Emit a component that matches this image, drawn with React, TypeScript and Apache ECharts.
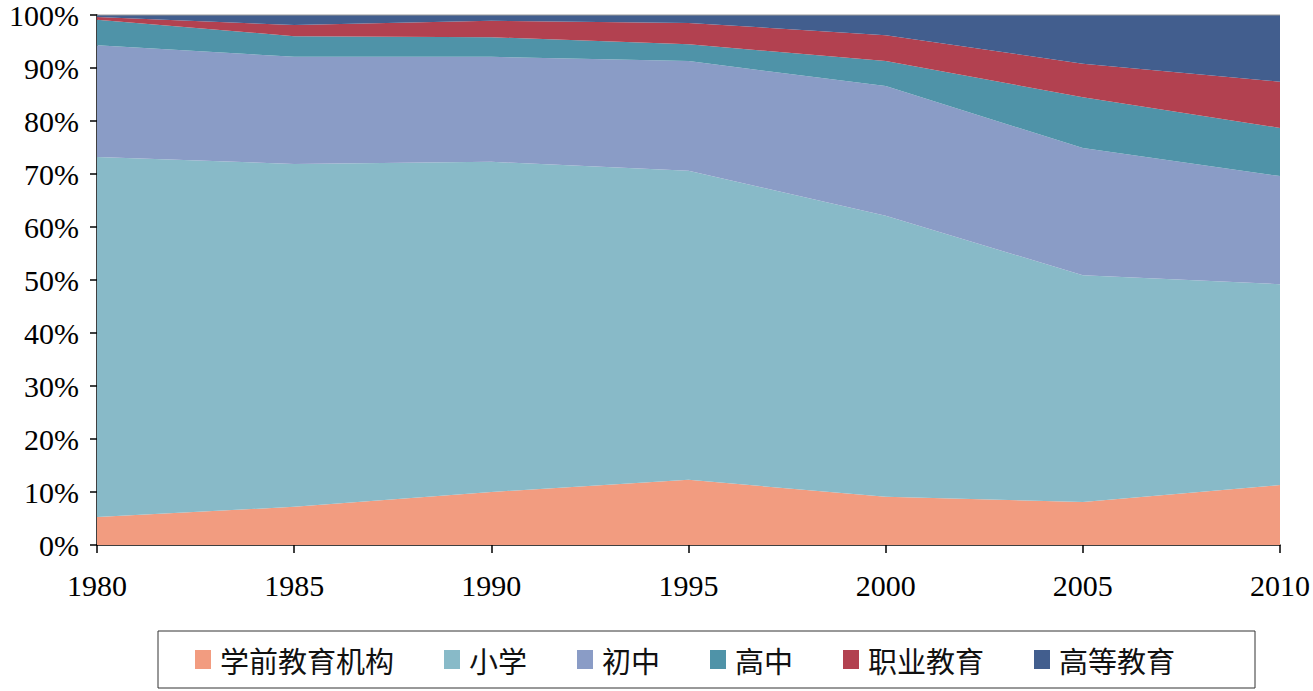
import React, { useEffect, useRef } from "react";
import * as echarts from "echarts";

const years = ["1980", "1985", "1990", "1995", "2000", "2005", "2010"];
const preschool = [5.3, 7.2, 10.0, 12.3, 9.1, 8.1, 11.3];
const primary = [67.9, 64.7, 62.3, 58.3, 53.0, 42.8, 37.9];
const junior = [21.1, 20.2, 19.8, 20.7, 24.5, 24.0, 20.4];
const senior = [4.8, 3.9, 3.7, 3.2, 4.7, 9.6, 9.1];
const vocational = [0.5, 2.1, 3.1, 4.0, 4.9, 6.3, 8.7];
const higher = [0.4, 1.9, 1.1, 1.5, 3.8, 9.2, 12.6];

const seriesNames = ["学前教育机构", "小学", "初中", "高中", "职业教育", "高等教育"];
const seriesData = [preschool, primary, junior, senior, vocational, higher];
const colors = ["#F29C80", "#88BAC8", "#8A9CC6", "#4F93A8", "#B24150", "#425E8E"];

const serif = "'Liberation Serif', 'Times New Roman', 'DejaVu Serif', serif";

export default function App() {
  const ref = useRef<HTMLDivElement>(null);
  useEffect(() => {
    const chart = echarts.init(ref.current!, null, { renderer: "svg" });
    chart.setOption({
      animation: false,
      backgroundColor: "#ffffff",
      grid: { left: 97, right: 33, top: 15, bottom: 146, containLabel: false, outerBoundsMode: "none" },
      legend: {
        left: 158,
        top: 631,
        orient: "horizontal",
        borderColor: "#333",
        borderWidth: 1,
        padding: [14, 80, 14, 37],
        itemWidth: 16,
        itemHeight: 19,
        itemGap: 50,
        icon: "rect",
        textStyle: { fontFamily: "'Noto Sans CJK SC'", fontSize: 29, color: "#111", padding: [0, 0, 0, 4] },
        data: seriesNames,
      },
      xAxis: {
        type: "category",
        data: years,
        boundaryGap: false,
        axisLine: { lineStyle: { color: "#000", width: 1.5 } },
        axisTick: { show: true, length: 8, alignWithLabel: true, lineStyle: { color: "#000", width: 1.5 } },
        axisLabel: { fontFamily: serif, fontSize: 30, color: "#000", margin: 25 },
        splitLine: { show: false },
      },
      yAxis: {
        type: "value",
        min: 0,
        max: 100,
        interval: 10,
        axisLine: { show: true, lineStyle: { color: "#000", width: 1.5 } },
        axisTick: { show: true, length: 7, lineStyle: { color: "#000", width: 1.5 } },
        axisLabel: { fontFamily: serif, fontSize: 30, color: "#000", margin: 18, formatter: "{value}%" },
        splitLine: { show: false },
      },
      series: seriesNames.map((name, i) => ({
        name,
        type: "line",
        stack: "total",
        data: seriesData[i],
        symbol: "none",
        lineStyle: { width: 0 },
        areaStyle: { color: colors[i], opacity: 1 },
        itemStyle: { color: colors[i] },
        z: 2,
      })),
      graphic: [
        {
          type: "line",
          shape: { x1: 97, y1: 15, x2: 1280, y2: 15 },
          style: { stroke: "#999", lineWidth: 1 },
          z: 10,
        },
      ],
    });
    return () => chart.dispose();
  }, []);
  return <div ref={ref} style={{ width: 1313, height: 691, position: "absolute", left: 0, top: 0 }} />;
}
